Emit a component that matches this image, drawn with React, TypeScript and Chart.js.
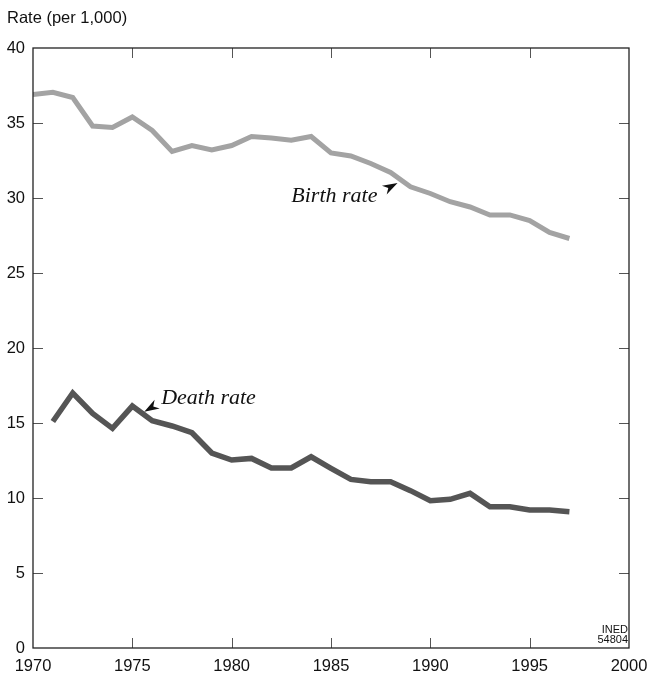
import React, { useEffect, useRef } from "react";
import { Chart, registerables } from "chart.js";

Chart.register(...registerables);

const years = [
  1970, 1971, 1972, 1973, 1974, 1975, 1976, 1977, 1978, 1979,
  1980, 1981, 1982, 1983, 1984, 1985, 1986, 1987, 1988, 1989,
  1990, 1991, 1992, 1993, 1994, 1995, 1996, 1997,
];

const birthRate = [
  36.9, 37.05, 36.7, 34.8, 34.7, 35.4, 34.5, 33.1, 33.5, 33.2,
  33.5, 34.1, 34.0, 33.85, 34.1, 33.0, 32.8, 32.3, 31.7, 30.75,
  30.3, 29.75, 29.4, 28.87, 28.87, 28.5, 27.7, 27.3,
];

const deathRate = [
  null, 15.1, 17.0, 15.64, 14.64, 16.13, 15.15, 14.8, 14.35, 13.0,
  12.53, 12.64, 12.0, 12.0, 12.75, 11.98, 11.24, 11.09, 11.09, 10.49,
  9.82, 9.91, 10.31, 9.42, 9.42, 9.2, 9.2, 9.09,
];

const xTickValues = [1975, 1980, 1985, 1990, 1995];
const yTickValues = [5, 10, 15, 20, 25, 30, 35];

const yAxisTitle = "Rate (per 1,000)";
const birthLabel = "Birth rate";
const deathLabel = "Death rate";
const sourceLines = ["INED", "54804"];

const SANS = '"Liberation Sans", Arial, Helvetica, sans-serif';
const SERIF = '"Liberation Serif", "Times New Roman", serif';

function drawArrow(ctx: CanvasRenderingContext2D, fx: number, fy: number, tx: number, ty: number) {
  const ang = Math.atan2(ty - fy, tx - fx);
  const len = 15;
  const half = 5;
  const bx = tx - len * Math.cos(ang);
  const by = ty - len * Math.sin(ang);
  const nx = -Math.sin(ang);
  const ny = Math.cos(ang);
  const mx = tx - len * 0.7 * Math.cos(ang);
  const my = ty - len * 0.7 * Math.sin(ang);
  ctx.beginPath();
  ctx.moveTo(tx, ty);
  ctx.lineTo(bx + nx * half, by + ny * half);
  ctx.lineTo(mx, my);
  ctx.lineTo(bx - nx * half, by - ny * half);
  ctx.closePath();
  ctx.fill();
}

const decorPlugin = {
  id: "decor",
  afterDatasetsDraw(chart: any) {
    const { ctx, chartArea } = chart;
    const xs = chart.scales.x;
    const ys = chart.scales.y;
    const { left, right, top, bottom } = chartArea;
    ctx.save();

    // inward ticks
    ctx.strokeStyle = "#555";
    ctx.lineWidth = 1;
    const tl = 10;
    ctx.beginPath();
    for (const v of xTickValues) {
      const px = Math.round(xs.getPixelForValue(v)) + 0.5;
      ctx.moveTo(px, bottom);
      ctx.lineTo(px, bottom - tl);
      ctx.moveTo(px, top);
      ctx.lineTo(px, top + tl);
    }
    for (const v of yTickValues) {
      const py = Math.round(ys.getPixelForValue(v)) + 0.5;
      ctx.moveTo(left, py);
      ctx.lineTo(left + tl, py);
      ctx.moveTo(right, py);
      ctx.lineTo(right - tl, py);
    }
    ctx.stroke();

    // frame
    ctx.strokeStyle = "#222";
    ctx.lineWidth = 1.3;
    ctx.strokeRect(left, top, right - left, bottom - top);

    // title
    ctx.fillStyle = "#111";
    ctx.font = `16.5px ${SANS}`;
    ctx.textAlign = "left";
    ctx.textBaseline = "alphabetic";
    ctx.fillText(yAxisTitle, 7, 23);

    // annotations
    ctx.font = `italic 22px ${SERIF}`;
    ctx.fillText(birthLabel, xs.getPixelForValue(1983.0), ys.getPixelForValue(29.75));
    ctx.fillText(deathLabel, xs.getPixelForValue(1976.45), ys.getPixelForValue(16.27));
    drawArrow(
      ctx,
      xs.getPixelForValue(1987.5), ys.getPixelForValue(30.4),
      xs.getPixelForValue(1988.35), ys.getPixelForValue(31.0)
    );
    drawArrow(
      ctx,
      xs.getPixelForValue(1976.3), ys.getPixelForValue(16.3),
      xs.getPixelForValue(1975.6), ys.getPixelForValue(15.75)
    );

    // source
    ctx.font = `11px "Liberation Sans Narrow", "Arial Narrow", ${SANS}`;
    ctx.textAlign = "right";
    ctx.fillText(sourceLines[0], right - 1, bottom - 15);
    ctx.fillText(sourceLines[1], right - 1, bottom - 5);
    ctx.restore();
  },
};

export default function App() {
  const ref = useRef<HTMLCanvasElement | null>(null);

  useEffect(() => {
    if (!ref.current) return;
    const chart = new Chart(ref.current, {
      type: "line",
      data: {
        datasets: [
          {
            label: birthLabel,
            data: years.map((y, i) => ({ x: y, y: birthRate[i] })),
            borderColor: "#a3a3a3",
            borderWidth: 5,
            pointRadius: 0,
            tension: 0,
            borderJoinStyle: "miter",
            borderCapStyle: "butt",
          },
          {
            label: deathLabel,
            data: years.map((y, i) => ({ x: y, y: deathRate[i] })),
            borderColor: "#555555",
            borderWidth: 5.5,
            pointRadius: 0,
            tension: 0,
            borderJoinStyle: "miter",
            borderCapStyle: "butt",
            spanGaps: false,
          },
        ],
      },
      options: {
        animation: false,
        responsive: false,
        layout: { padding: { top: 48, right: 18, left: 0, bottom: 0 } },
        plugins: {
          legend: { display: false },
          tooltip: { enabled: false },
          title: { display: false },
        },
        scales: {
          x: {
            type: "linear",
            min: 1970,
            max: 2000,
            afterBuildTicks: (s: any) => {
              s.ticks = [1970, 1975, 1980, 1985, 1990, 1995, 2000].map((v) => ({ value: v }));
            },
            afterFit: (s: any) => {
              s.height = 33;
              s.paddingLeft = 0;
              s.paddingRight = 0;
            },
            grid: { display: false, drawTicks: false },
            border: { display: false },
            ticks: {
              color: "#111",
              font: { family: SANS, size: 16.5 },
              padding: 9,
              maxRotation: 0,
              autoSkip: false,
              callback: (v: any) => String(v),
            },
          },
          y: {
            min: 0,
            max: 40,
            afterBuildTicks: (s: any) => {
              s.ticks = [0, 5, 10, 15, 20, 25, 30, 35, 40].map((v) => ({ value: v }));
            },
            afterFit: (s: any) => {
              s.width = 33;
              s.paddingTop = 0;
              s.paddingBottom = 0;
            },
            grid: { display: false, drawTicks: false },
            border: { display: false },
            ticks: {
              color: "#111",
              font: { family: SANS, size: 16.5 },
              padding: 8,
              autoSkip: false,
            },
          },
        },
      },
      plugins: [decorPlugin],
    } as any);
    return () => chart.destroy();
  }, []);

  return (
    <div style={{ position: "fixed", left: 0, top: 0, width: 647, height: 681, background: "#fff" }}>
      <canvas ref={ref} width={647} height={681} />
    </div>
  );
}
